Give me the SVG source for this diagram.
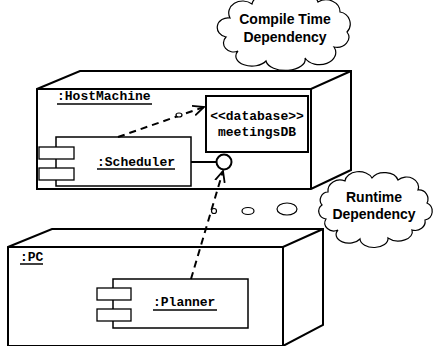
<svg xmlns="http://www.w3.org/2000/svg" width="434" height="346" viewBox="0 0 434 346">
<defs>
<style>
.node{fill:#fff;stroke:#000;stroke-width:2;stroke-linejoin:miter}
.box{fill:#fff;stroke:#000;stroke-width:1.5}
.tab{fill:#fff;stroke:#000;stroke-width:1.3}
.mono{font-family:"Liberation Mono","Courier New",monospace;font-weight:bold;font-size:13px;fill:#000}
.cloudtxt{font-family:"Liberation Sans",Arial,sans-serif;font-weight:bold;font-size:14px;fill:#000;text-anchor:middle}
.cloud{fill:#fff;stroke:#000;stroke-width:1.2}
.ul{stroke:#000;stroke-width:1.5}
.dep{fill:none;stroke:#000;stroke-width:2;stroke-dasharray:7,5}
.bubble{fill:#fff;stroke:#000;stroke-width:1.2}
</style>
<marker id="open" viewBox="0 0 12 12" refX="11" refY="6" markerWidth="12" markerHeight="12" markerUnits="userSpaceOnUse" orient="auto">
<path d="M0,1 L11,6 L0,11" fill="none" stroke="#000" stroke-width="1.8"/>
</marker>
</defs>

<g id="compile-note">
<path class="cloud" d="M230 18 A14 12 0 0 1 252 4 A18 12 0 0 1 285 -1 A18 12 0 0 1 318 2 A14 12 0 0 1 340 12 A12 12 0 0 1 347 32 A12 10 0 0 1 334 47 A16 12 0 0 1 305 58 A18 10 0 0 1 266 61 A16 10 0 0 1 238 51 A10 9 0 0 1 226 37 A10 9 0 0 1 230 18 Z"/>
<text class="cloudtxt" x="285" y="24">Compile Time</text>
<text class="cloudtxt" x="285" y="42">Dependency</text>
<ellipse class="bubble" cx="229" cy="76" rx="11" ry="5"/>
<ellipse class="bubble" cx="201" cy="97" rx="6" ry="3.5"/>
</g>

<g id="HostMachine">
<path class="node" d="M37 89 L80 71 L351 71 L351 170 L311 189 L37 189 Z"/>
<path fill="none" stroke="#000" stroke-width="2" d="M37 89 L311 89 L351 71 M311 89 L311 189"/>
<text class="mono" x="57" y="100">:HostMachine</text>
<line class="ul" x1="57" y1="104" x2="152" y2="104"/>
</g>

<g id="meetingsDB">
<rect x="206" y="96" width="102" height="56" fill="#fff" stroke="#000" stroke-width="2"/>
<text class="mono" x="257" y="120" text-anchor="middle">&lt;&lt;database&gt;&gt;</text>
<text class="mono" x="257" y="136" text-anchor="middle">meetingsDB</text>
</g>

<g id="Scheduler">
<rect class="box" x="56" y="137" width="135" height="49"/>
<rect class="tab" x="39" y="147" width="35" height="12"/>
<rect class="tab" x="39" y="168" width="35" height="12"/>
<text class="mono" x="97" y="166">:Scheduler</text>
<line class="ul" x1="97" y1="169" x2="175" y2="169"/>
<line x1="191" y1="162" x2="217" y2="162" stroke="#000" stroke-width="2"/>
<circle cx="224" cy="162" r="7.5" fill="#fff" stroke="#000" stroke-width="2"/>
</g>

<g id="runtime-note">
<path class="cloud" d="M328 192 A12 11 0 0 1 345 181 A14 10 0 0 1 372 178 A14 10 0 0 1 398 180 A12 10 0 0 1 418 190 A9 9 0 0 1 427 203 A9 9 0 0 1 425 220 A10 9 0 0 1 412 230 A14 9 0 0 1 388 238 A14 9 0 0 1 360 239 A12 8 0 0 1 338 230 A9 8 0 0 1 326 219 A9 8 0 0 1 322 205 A8 8 0 0 1 328 192 Z"/>
<text class="cloudtxt" x="374" y="202">Runtime</text>
<text class="cloudtxt" x="374" y="219">Dependency</text>
<ellipse class="bubble" cx="287" cy="209" rx="10" ry="6"/>
<ellipse class="bubble" cx="248" cy="211" rx="6" ry="3.5"/>
</g>

<g id="PC">
<path class="node" d="M8 247 L52 229 L323 229 L323 325 L283 346 L8 346 Z"/>
<path fill="none" stroke="#000" stroke-width="2" d="M8 247 L283 247 L323 229 M283 247 L283 346"/>
<text class="mono" x="20" y="261">:PC</text>
<line class="ul" x1="20" y1="264" x2="43" y2="264"/>
</g>

<g id="Planner">
<rect class="box" x="113" y="279" width="135" height="49"/>
<rect class="tab" x="97" y="288" width="34" height="12"/>
<rect class="tab" x="97" y="309" width="34" height="12"/>
<text class="mono" x="153" y="306">:Planner</text>
<line class="ul" x1="153" y1="310" x2="217" y2="310"/>
</g>

<g id="connectors">
<path class="dep" d="M118 137 L204 107" marker-end="url(#open)"/>
<ellipse cx="179" cy="115" rx="3" ry="2" fill="#fff" stroke="#000" stroke-width="1.2"/>
<path class="dep" d="M191 279 L223 171" marker-end="url(#open)"/>
<ellipse cx="214" cy="211" rx="2.5" ry="2.5" fill="#fff" stroke="#000" stroke-width="1.2"/>
</g>
</svg>
